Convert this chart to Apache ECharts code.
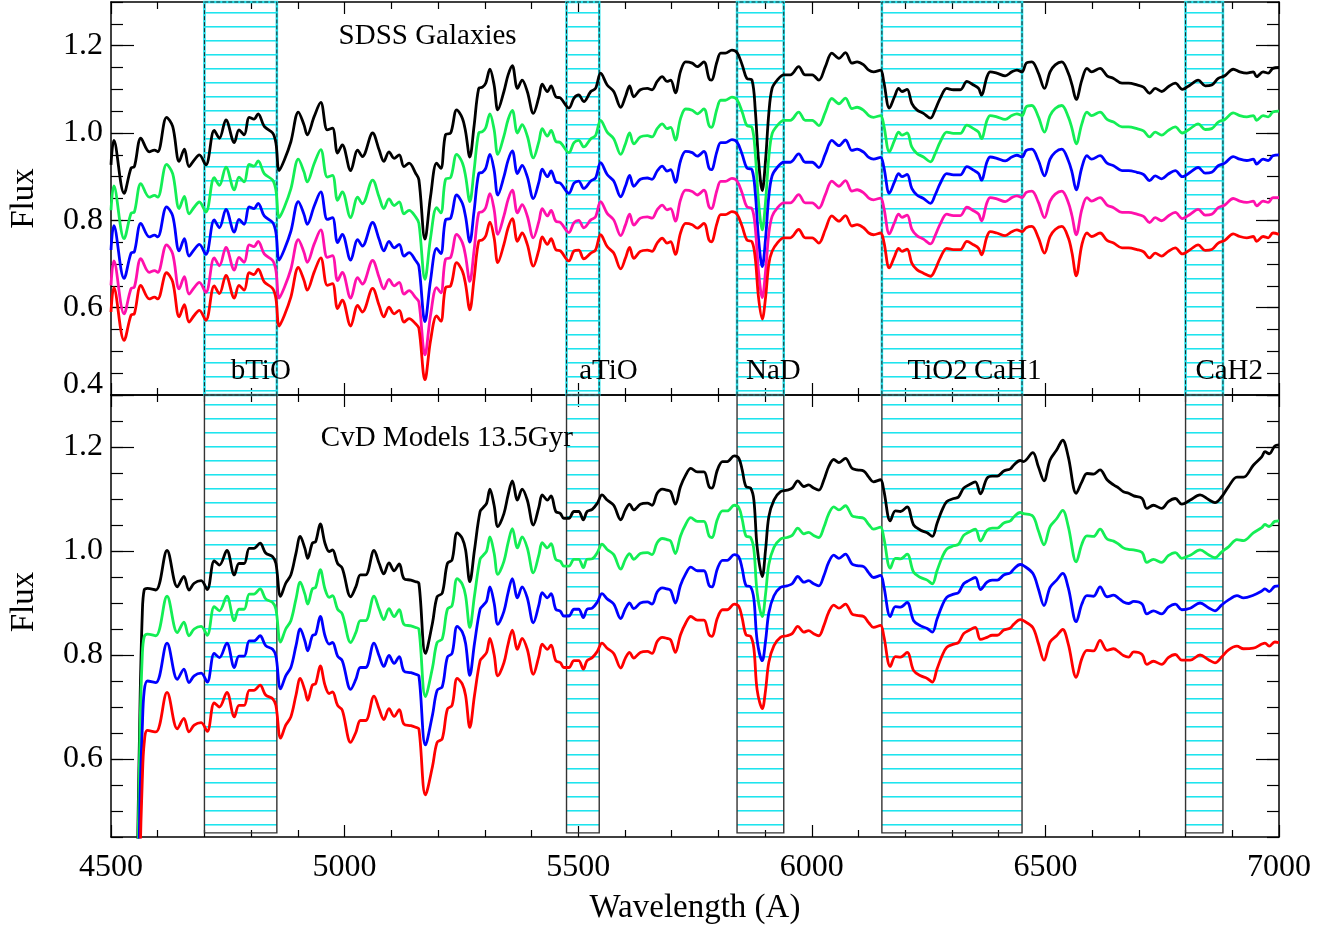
<!DOCTYPE html>
<html><head><meta charset="utf-8">
<script src="https://cdn.jsdelivr.net/npm/echarts@6/dist/echarts.min.js"></script>
<style>html,body{margin:0;padding:0;background:#fff}#c{width:1333px;height:926px}</style>
</head><body><div id="c"></div>
<script>
// ---------- data: SDSS galaxies (top panel) ----------
const waveTop = [
4500,4506,4528,4543,4550,4564,4582,4593,4600,4619,
4632,4646,4657,4667,4678,4689,4703,4721,4732,4746,
4764,4774,4785,4796,4806,4815,4828,4846,4853,4860,
4871,4885,4901,4913,4920,4935,4949,4963,4974,4985,
4995,5013,5028,5038,5060,5074,5084,5095,5106,5117,
5127,5138,5152,5159,5172,5184,5197,5206,5216,5227,
5240,5252,5259,5268,5277,5287,5295,5302,5311,5320,
5328,5341,5350,5359,5370,5380,5391,5404,5416,5423,
5434,5442,5452,5462,5480,5491,5501,5512,5527,5537,
5548,5562,5576,5591,5601,5610,5619,5633,5648,5658,
5669,5680,5690,5698,5708,5719,5730,5744,5755,5769,
5780,5785,5797,5805,5815,5829,5840,5851,5861,5872,
5879,5886,5894,5901,5908,5915,5926,5940,5954,5972,
5986,6001,6015,6029,6043,6058,6072,6086,6097,6111,
6122,6132,6147,6154,6166,6177,6186,6193,6204,6214,
6225,6239,6254,6264,6275,6289,6303,6318,6332,6346,
6357,6363,6375,6382,6396,6414,6428,6439,6450,6459,
6471,6485,6498,6510,6521,6535,6549,6557,6566,6578,
6589,6599,6617,6632,6646,6664,6678,6696,6710,6723,
6735,6749,6763,6778,6793,6810,6827,6842,6856,6870,
6884,6902,6916,6931,6945,6952,6966,6977,6987,7000];
const sdssBlack = [
0.927,0.983,0.862,0.920,0.923,0.988,0.957,0.961,0.957,1.036,
1.015,0.935,0.963,0.923,0.938,0.950,0.927,1.006,0.988,1.030,
0.978,1.007,0.996,1.036,1.032,1.044,1.015,1.000,0.977,0.914,
0.938,0.980,1.048,1.019,0.996,1.038,1.070,1.007,1.011,0.954,
0.973,0.914,0.961,0.946,1.000,0.961,0.935,0.957,0.942,0.950,
0.923,0.931,0.908,0.893,0.757,0.855,0.931,0.919,0.996,1.000,
1.053,1.034,1.003,0.945,1.015,1.102,1.105,1.114,1.146,1.110,
1.053,1.095,1.133,1.154,1.102,1.121,1.095,1.045,1.083,1.112,
1.095,1.108,1.083,1.080,1.057,1.080,1.087,1.072,1.095,1.102,
1.137,1.110,1.095,1.059,1.083,1.108,1.083,1.099,1.102,1.099,
1.118,1.129,1.118,1.121,1.092,1.141,1.163,1.160,1.152,1.163,
1.125,1.121,1.163,1.183,1.183,1.190,1.184,1.156,1.125,1.121,
1.053,0.938,0.868,0.938,1.045,1.102,1.121,1.133,1.133,1.152,
1.133,1.133,1.121,1.152,1.183,1.171,1.184,1.160,1.163,1.156,
1.144,1.140,1.144,1.118,1.057,1.083,1.102,1.095,1.100,1.068,
1.053,1.045,1.034,1.053,1.080,1.102,1.099,1.099,1.118,1.110,
1.102,1.087,1.129,1.140,1.137,1.131,1.140,1.144,1.140,1.160,
1.163,1.137,1.102,1.140,1.156,1.163,1.137,1.110,1.077,1.121,
1.148,1.140,1.148,1.131,1.125,1.114,1.114,1.110,1.105,1.091,
1.102,1.095,1.106,1.114,1.100,1.110,1.121,1.108,1.110,1.125,
1.131,1.146,1.140,1.137,1.140,1.129,1.140,1.137,1.148,1.150];
const sdssGreen = [
0.823,0.879,0.758,0.816,0.819,0.884,0.853,0.857,0.853,0.928,
0.907,0.827,0.855,0.815,0.830,0.842,0.819,0.898,0.880,0.922,
0.870,0.899,0.888,0.928,0.924,0.936,0.907,0.892,0.869,0.806,
0.830,0.872,0.940,0.911,0.888,0.930,0.962,0.899,0.903,0.846,
0.865,0.806,0.853,0.838,0.892,0.853,0.827,0.849,0.834,0.842,
0.815,0.823,0.808,0.793,0.665,0.760,0.829,0.817,0.894,0.898,
0.951,0.932,0.901,0.843,0.913,1.000,1.003,1.012,1.044,1.008,
0.951,0.993,1.031,1.052,1.000,1.019,0.993,0.943,0.981,1.010,
0.993,1.006,0.981,0.978,0.955,0.978,0.983,0.968,0.987,0.994,
1.029,1.002,0.987,0.951,0.975,1.000,0.975,0.991,0.994,0.991,
1.010,1.021,1.010,1.013,0.984,1.033,1.055,1.052,1.044,1.055,
1.017,1.013,1.055,1.075,1.075,1.082,1.076,1.048,1.017,1.013,
0.953,0.843,0.778,0.843,0.945,0.998,1.017,1.029,1.029,1.048,
1.029,1.029,1.017,1.048,1.079,1.067,1.080,1.056,1.059,1.052,
1.040,1.036,1.040,1.018,0.957,0.983,1.002,0.995,1.000,0.968,
0.953,0.945,0.934,0.953,0.980,1.002,0.999,0.999,1.018,1.010,
1.002,0.987,1.029,1.040,1.037,1.031,1.040,1.044,1.040,1.060,
1.063,1.037,1.002,1.040,1.056,1.063,1.037,1.010,0.975,1.021,
1.048,1.040,1.048,1.031,1.025,1.014,1.014,1.010,1.005,0.991,
1.002,0.995,1.006,1.014,1.000,1.010,1.021,1.008,1.010,1.025,
1.031,1.046,1.040,1.037,1.040,1.029,1.040,1.037,1.048,1.050];
const sdssBlue = [
0.732,0.788,0.667,0.725,0.728,0.793,0.762,0.766,0.762,0.831,
0.810,0.730,0.758,0.718,0.733,0.745,0.722,0.801,0.783,0.825,
0.773,0.802,0.791,0.831,0.827,0.839,0.810,0.795,0.772,0.709,
0.733,0.775,0.843,0.814,0.791,0.833,0.865,0.802,0.806,0.749,
0.768,0.709,0.756,0.741,0.795,0.756,0.730,0.752,0.737,0.745,
0.718,0.726,0.708,0.695,0.568,0.663,0.736,0.724,0.801,0.805,
0.858,0.839,0.808,0.750,0.820,0.907,0.910,0.919,0.951,0.915,
0.858,0.900,0.938,0.959,0.907,0.926,0.900,0.850,0.888,0.917,
0.900,0.913,0.888,0.885,0.862,0.885,0.890,0.873,0.890,0.897,
0.932,0.905,0.890,0.854,0.878,0.903,0.878,0.894,0.897,0.894,
0.913,0.924,0.913,0.916,0.887,0.936,0.958,0.955,0.947,0.958,
0.920,0.916,0.958,0.978,0.978,0.985,0.979,0.951,0.920,0.916,
0.863,0.758,0.694,0.758,0.855,0.902,0.921,0.933,0.933,0.952,
0.933,0.933,0.921,0.952,0.983,0.971,0.984,0.960,0.963,0.956,
0.944,0.940,0.944,0.923,0.862,0.888,0.907,0.900,0.905,0.873,
0.858,0.850,0.839,0.858,0.885,0.907,0.904,0.904,0.923,0.915,
0.907,0.892,0.934,0.945,0.942,0.936,0.945,0.949,0.945,0.960,
0.963,0.937,0.902,0.940,0.956,0.963,0.937,0.910,0.870,0.921,
0.948,0.940,0.948,0.931,0.925,0.914,0.914,0.910,0.905,0.891,
0.902,0.895,0.906,0.914,0.900,0.910,0.921,0.908,0.910,0.925,
0.931,0.946,0.940,0.937,0.940,0.929,0.940,0.937,0.948,0.950];
const sdssPink = [
0.651,0.707,0.586,0.644,0.647,0.712,0.681,0.685,0.681,0.744,
0.723,0.643,0.671,0.631,0.646,0.658,0.635,0.714,0.696,0.738,
0.686,0.715,0.704,0.744,0.740,0.752,0.723,0.708,0.685,0.622,
0.646,0.688,0.756,0.727,0.704,0.746,0.778,0.715,0.719,0.662,
0.681,0.622,0.669,0.654,0.708,0.669,0.643,0.665,0.650,0.658,
0.631,0.639,0.623,0.613,0.492,0.583,0.646,0.634,0.711,0.715,
0.768,0.749,0.718,0.660,0.730,0.817,0.820,0.829,0.861,0.825,
0.768,0.810,0.848,0.869,0.817,0.836,0.810,0.760,0.798,0.827,
0.810,0.823,0.798,0.795,0.772,0.795,0.800,0.783,0.801,0.808,
0.843,0.816,0.801,0.765,0.789,0.814,0.789,0.805,0.808,0.805,
0.824,0.835,0.824,0.827,0.798,0.847,0.869,0.866,0.858,0.869,
0.831,0.827,0.869,0.889,0.889,0.896,0.890,0.862,0.831,0.827,
0.783,0.683,0.623,0.683,0.770,0.809,0.828,0.840,0.840,0.859,
0.840,0.840,0.828,0.859,0.890,0.878,0.891,0.867,0.870,0.863,
0.851,0.847,0.851,0.830,0.769,0.795,0.814,0.807,0.812,0.780,
0.765,0.757,0.746,0.765,0.792,0.814,0.811,0.811,0.830,0.822,
0.814,0.799,0.841,0.852,0.849,0.843,0.852,0.856,0.852,0.864,
0.867,0.841,0.806,0.844,0.860,0.867,0.841,0.810,0.767,0.825,
0.852,0.844,0.852,0.835,0.829,0.818,0.818,0.814,0.809,0.795,
0.806,0.799,0.810,0.818,0.804,0.814,0.825,0.812,0.814,0.829,
0.835,0.850,0.844,0.841,0.844,0.833,0.844,0.841,0.852,0.852];
const sdssRed = [
0.590,0.646,0.525,0.583,0.586,0.651,0.620,0.624,0.620,0.680,
0.659,0.579,0.607,0.567,0.582,0.594,0.571,0.650,0.632,0.674,
0.622,0.651,0.640,0.680,0.676,0.688,0.659,0.644,0.621,0.558,
0.582,0.624,0.692,0.663,0.640,0.682,0.714,0.651,0.655,0.598,
0.617,0.558,0.605,0.590,0.644,0.605,0.579,0.601,0.586,0.594,
0.567,0.575,0.563,0.553,0.435,0.525,0.581,0.569,0.646,0.650,
0.703,0.684,0.653,0.595,0.665,0.752,0.755,0.764,0.796,0.760,
0.703,0.745,0.783,0.804,0.752,0.771,0.745,0.695,0.733,0.762,
0.745,0.758,0.733,0.730,0.707,0.730,0.732,0.712,0.725,0.732,
0.767,0.740,0.725,0.689,0.713,0.738,0.713,0.729,0.732,0.729,
0.748,0.759,0.748,0.751,0.722,0.771,0.793,0.790,0.782,0.793,
0.755,0.751,0.793,0.813,0.813,0.820,0.814,0.786,0.755,0.751,
0.713,0.623,0.574,0.623,0.700,0.729,0.748,0.760,0.760,0.779,
0.760,0.760,0.748,0.779,0.810,0.798,0.811,0.787,0.790,0.783,
0.771,0.767,0.771,0.752,0.691,0.717,0.736,0.729,0.734,0.702,
0.687,0.679,0.672,0.687,0.714,0.736,0.733,0.733,0.752,0.744,
0.736,0.721,0.763,0.774,0.771,0.765,0.774,0.778,0.774,0.783,
0.786,0.760,0.725,0.763,0.779,0.786,0.760,0.725,0.673,0.744,
0.771,0.763,0.771,0.754,0.748,0.737,0.737,0.733,0.728,0.714,
0.725,0.718,0.729,0.737,0.723,0.733,0.744,0.731,0.733,0.748,
0.754,0.769,0.763,0.760,0.763,0.752,0.763,0.760,0.771,0.768];

// ---------- data: CvD models (bottom panel) ----------
const waveBot = [
4553,4562,4567,4571,4578,4596,4620,4642,4656,4667,
4678,4693,4706,4721,4732,4748,4764,4774,4785,4796,
4806,4819,4831,4846,4853,4863,4874,4885,4896,4905,
4915,4921,4931,4938,4948,4958,4967,4974,4985,4995,
5013,5024,5034,5045,5063,5074,5084,5095,5106,5117,
5127,5142,5152,5159,5173,5188,5198,5209,5220,5230,
5241,5252,5259,5268,5278,5290,5297,5304,5311,5320,
5328,5341,5350,5359,5370,5380,5391,5404,5416,5423,
5434,5442,5452,5462,5469,5480,5491,5501,5511,5519,
5530,5541,5551,5562,5576,5591,5601,5610,5619,5633,
5648,5658,5669,5680,5690,5698,5708,5719,5730,5741,
5755,5769,5780,5786,5798,5809,5819,5834,5844,5851,
5859,5869,5876,5883,5894,5901,5908,5919,5933,5947,
5958,5970,5983,5993,6004,6015,6026,6036,6047,6058,
6072,6086,6097,6111,6122,6132,6147,6154,6168,6179,
6190,6204,6218,6233,6247,6258,6268,6279,6289,6304,
6314,6325,6336,6350,6361,6375,6386,6397,6411,6425,
6432,6446,6453,6473,6485,6497,6510,6524,6537,6549,
6566,6578,6589,6603,6617,6632,6646,6657,6667,6678,
6689,6707,6717,6731,6749,6763,6778,6792,6810,6831,
6849,6863,6877,6892,6910,6924,6945,6963,6970,6979,
6991,7000];
const cvdBlack = [
0.20,0.70,0.88,0.925,0.928,0.925,1.001,0.931,0.951,0.925,
0.938,0.943,0.926,0.981,0.973,1.001,0.954,0.976,0.976,1.005,
1.005,1.015,0.996,0.989,0.976,0.913,0.938,0.954,0.996,1.028,
1.005,0.986,1.015,1.018,1.052,1.015,0.999,1.002,0.976,0.967,
0.912,0.931,0.954,0.954,1.001,0.976,0.956,0.977,0.962,0.975,
0.947,0.944,0.941,0.938,0.803,0.861,0.912,0.919,0.976,0.983,
1.035,1.024,1.002,0.941,1.002,1.076,1.084,1.092,1.119,1.088,
1.047,1.072,1.108,1.135,1.098,1.119,1.098,1.050,1.085,1.108,
1.098,1.106,1.076,1.072,1.063,1.063,1.076,1.076,1.060,1.076,
1.080,1.092,1.108,1.098,1.088,1.060,1.079,1.090,1.079,1.090,
1.092,1.088,1.111,1.119,1.117,1.114,1.090,1.124,1.146,1.159,
1.152,1.152,1.124,1.121,1.156,1.172,1.172,1.183,1.178,1.156,
1.124,1.121,1.098,1.008,0.951,1.002,1.066,1.098,1.114,1.117,
1.121,1.135,1.124,1.127,1.121,1.117,1.137,1.162,1.176,1.170,
1.178,1.159,1.156,1.154,1.142,1.133,1.137,1.117,1.058,1.077,
1.076,1.085,1.050,1.040,1.035,1.028,1.053,1.079,1.095,1.101,
1.104,1.121,1.127,1.133,1.110,1.140,1.144,1.144,1.154,1.158,
1.165,1.174,1.172,1.189,1.162,1.135,1.175,1.194,1.213,1.181,
1.111,1.133,1.149,1.148,1.156,1.137,1.127,1.121,1.114,1.111,
1.106,1.101,1.082,1.088,1.082,1.095,1.101,1.090,1.098,1.108,
1.099,1.093,1.104,1.124,1.142,1.142,1.165,1.181,1.191,1.187,
1.202,1.204];
const cvdGreen = [
0.15,0.65,0.80,0.835,0.840,0.837,0.913,0.843,0.863,0.837,
0.850,0.855,0.838,0.893,0.885,0.913,0.866,0.888,0.888,0.917,
0.917,0.927,0.908,0.901,0.888,0.825,0.850,0.866,0.908,0.940,
0.917,0.898,0.927,0.930,0.964,0.927,0.911,0.914,0.888,0.879,
0.824,0.843,0.866,0.866,0.913,0.888,0.868,0.889,0.874,0.887,
0.859,0.856,0.853,0.850,0.720,0.775,0.824,0.831,0.888,0.895,
0.947,0.936,0.914,0.853,0.914,0.984,0.992,1.000,1.027,0.996,
0.955,0.980,1.016,1.043,1.006,1.027,1.006,0.958,0.993,1.016,
1.006,1.014,0.984,0.980,0.971,0.971,0.984,0.984,0.968,0.984,
0.985,0.997,1.013,1.003,0.993,0.965,0.984,0.995,0.984,0.995,
0.997,0.993,1.016,1.024,1.022,1.019,0.995,1.029,1.051,1.064,
1.057,1.057,1.029,1.026,1.061,1.077,1.077,1.088,1.083,1.061,
1.029,1.026,1.003,0.920,0.874,0.917,0.974,1.007,1.023,1.026,
1.030,1.044,1.033,1.036,1.030,1.026,1.046,1.071,1.085,1.079,
1.087,1.068,1.065,1.063,1.051,1.042,1.046,1.026,0.967,0.986,
0.985,0.994,0.959,0.949,0.944,0.937,0.962,0.988,1.004,1.010,
1.013,1.030,1.036,1.042,1.019,1.040,1.044,1.044,1.054,1.058,
1.065,1.074,1.072,1.067,1.039,1.012,1.047,1.062,1.078,1.047,
0.979,1.013,1.029,1.028,1.042,1.023,1.019,1.013,1.006,1.003,
1.002,0.997,0.978,0.984,0.978,0.991,0.997,0.986,0.992,1.002,
0.993,0.987,0.998,1.008,1.022,1.020,1.035,1.045,1.051,1.047,
1.057,1.058];
const cvdBlue = [
0.05,0.52,0.66,0.73,0.750,0.747,0.823,0.753,0.773,0.747,
0.760,0.765,0.748,0.803,0.795,0.823,0.776,0.798,0.798,0.827,
0.827,0.837,0.818,0.811,0.798,0.735,0.760,0.776,0.818,0.850,
0.827,0.808,0.837,0.840,0.874,0.837,0.821,0.824,0.798,0.789,
0.734,0.753,0.776,0.776,0.823,0.798,0.778,0.799,0.784,0.797,
0.769,0.766,0.763,0.760,0.627,0.684,0.732,0.739,0.796,0.803,
0.855,0.844,0.822,0.761,0.822,0.888,0.896,0.904,0.931,0.900,
0.859,0.884,0.920,0.947,0.910,0.931,0.910,0.862,0.897,0.920,
0.910,0.918,0.888,0.884,0.875,0.875,0.888,0.888,0.872,0.888,
0.890,0.902,0.918,0.908,0.898,0.870,0.889,0.900,0.889,0.900,
0.902,0.898,0.921,0.929,0.927,0.924,0.900,0.934,0.956,0.969,
0.962,0.962,0.934,0.931,0.966,0.982,0.982,0.993,0.988,0.966,
0.934,0.931,0.908,0.828,0.789,0.827,0.881,0.914,0.930,0.933,
0.937,0.951,0.940,0.943,0.937,0.933,0.953,0.978,0.992,0.986,
0.994,0.975,0.972,0.970,0.958,0.949,0.953,0.933,0.874,0.893,
0.892,0.901,0.866,0.856,0.851,0.844,0.869,0.895,0.911,0.917,
0.920,0.937,0.943,0.949,0.926,0.940,0.944,0.944,0.954,0.958,
0.965,0.974,0.972,0.957,0.927,0.895,0.930,0.944,0.957,0.929,
0.864,0.898,0.914,0.913,0.931,0.912,0.915,0.909,0.902,0.899,
0.903,0.898,0.879,0.885,0.879,0.892,0.898,0.887,0.890,0.900,
0.891,0.885,0.896,0.906,0.914,0.910,0.915,0.923,0.927,0.922,
0.932,0.933];
const cvdRed = [
-0.10,0.40,0.56,0.63,0.655,0.652,0.728,0.658,0.678,0.652,
0.665,0.670,0.653,0.708,0.700,0.728,0.681,0.703,0.703,0.732,
0.732,0.742,0.723,0.716,0.703,0.640,0.665,0.681,0.723,0.755,
0.732,0.713,0.742,0.745,0.779,0.742,0.726,0.729,0.703,0.694,
0.632,0.651,0.674,0.674,0.721,0.696,0.676,0.697,0.682,0.695,
0.667,0.664,0.661,0.658,0.531,0.585,0.632,0.639,0.696,0.703,
0.755,0.744,0.722,0.661,0.722,0.789,0.797,0.805,0.832,0.801,
0.760,0.785,0.821,0.848,0.811,0.832,0.811,0.763,0.798,0.821,
0.811,0.819,0.789,0.785,0.776,0.776,0.789,0.789,0.773,0.789,
0.795,0.807,0.823,0.813,0.803,0.775,0.794,0.805,0.794,0.805,
0.807,0.803,0.826,0.834,0.832,0.829,0.805,0.839,0.861,0.874,
0.867,0.867,0.839,0.836,0.871,0.887,0.887,0.898,0.893,0.871,
0.839,0.836,0.813,0.733,0.697,0.732,0.786,0.818,0.834,0.837,
0.841,0.855,0.844,0.847,0.841,0.837,0.857,0.882,0.896,0.890,
0.898,0.879,0.876,0.874,0.862,0.853,0.857,0.837,0.778,0.797,
0.796,0.805,0.770,0.760,0.755,0.748,0.773,0.799,0.815,0.821,
0.824,0.841,0.847,0.853,0.830,0.834,0.838,0.838,0.848,0.852,
0.859,0.868,0.866,0.853,0.822,0.790,0.825,0.837,0.849,0.821,
0.757,0.793,0.809,0.808,0.828,0.809,0.812,0.806,0.799,0.796,
0.806,0.801,0.782,0.788,0.782,0.795,0.801,0.790,0.790,0.800,
0.791,0.785,0.796,0.810,0.817,0.812,0.813,0.821,0.823,0.817,
0.825,0.824];

// ---------- index bands, ticks and texts ----------
const bandEdges = [[4700,4855],[5475,5545],[5840,5940],[6150,6450],[6800,6880]];
const bandNames = ['bTiO','aTiO','NaD','TiO2','CaH1','CaH2'];
const bandNameWave = [4755,5501,5858,6204,6346,6820];
const xTickLabels = [4500,5000,5500,6000,6500,7000];
const yTopTicks = [0.4,0.6,0.8,1.0,1.2];
const yBotTicks = [0.6,0.8,1.0,1.2];
const panelTitles = ['SDSS Galaxies','CvD Models 13.5Gyr'];

const SERIF = "'Liberation Serif','Times New Roman',serif";
const COLORS5 = ['#000000','#14ee55','#0000ff','#ff10ac','#ff0000'];
const COLORS4 = ['#000000','#14ee55','#0000ff','#ff0000'];

// hatch pattern for the index bands
const pc = document.createElement('canvas');
pc.width = 8; pc.height = 14;
const pg = pc.getContext('2d');
pg.fillStyle = '#1ee4ee'; pg.fillRect(0, 12, 8, 1);
pg.fillStyle = '#7ff0f5'; pg.fillRect(0, 13, 8, 1);
const hatch = {image: pc, repeat: 'repeat'};

const chart = echarts.init(document.getElementById('c'), null, {renderer: 'canvas'});
const axLine = {color: '#000', width: 1.5};
const tickLine = {color: '#000', width: 1.2};

function xAx(grid, pos, showLabel, name) {
  return {
    type: 'value', gridIndex: grid, position: pos, min: 4500, max: 7000, interval: 500,
    name: name || '', nameLocation: 'middle', nameGap: 55,
    nameTextStyle: {fontFamily: SERIF, fontSize: 33, color: '#000'},
    axisLine: {show: true, onZero: false, lineStyle: axLine},
    axisTick: {show: true, inside: true, length: 12, lineStyle: tickLine},
    minorTick: {show: true, splitNumber: 5, length: 7, lineStyle: tickLine},
    axisLabel: {show: showLabel, margin: 15, fontFamily: SERIF, fontSize: 32, color: '#000',
      customValues: xTickLabels, formatter: v => String(v)},
    splitLine: {show: false}, minorSplitLine: {show: false}
  };
}
function yMajor(grid, pos, min, ticks, showLabel, name, namePad) {
  return {
    type: 'value', gridIndex: grid, position: pos, min: min, max: 1.3,
    name: name || '', nameLocation: 'middle', nameGap: 70,
    nameTextStyle: {fontFamily: SERIF, fontSize: 33, color: '#000', padding: namePad || 0},
    axisLine: {show: true, onZero: false, lineStyle: axLine},
    axisTick: {show: true, inside: true, length: 23, customValues: ticks, lineStyle: tickLine},
    axisLabel: {show: showLabel, margin: 8, customValues: ticks, fontFamily: SERIF, fontSize: 32, color: '#000',
      formatter: v => (Math.abs(v - 0.4) < 1e-6 ? '{up|' + v.toFixed(1) + '}' : v.toFixed(1)),
      rich: {up: {fontFamily: SERIF, fontSize: 32, color: '#000', padding: [0, 0, 20, 0]}}},
    splitLine: {show: false}
  };
}
function yMinor(grid, pos, min) {
  return {
    type: 'value', gridIndex: grid, position: pos, min: min, max: 1.3, interval: 0.05,
    axisLine: {show: false},
    axisTick: {show: true, inside: true, length: 12, lineStyle: tickLine},
    axisLabel: {show: false}, splitLine: {show: false}
  };
}

function spec(wave, vals, color, xi, yi, z) {
  return {
    type: 'line', xAxisIndex: xi, yAxisIndex: yi, data: wave.map((w, i) => [w, vals[i]]),
    showSymbol: false, smooth: 0.35, clip: true, z: z, silent: true,
    lineStyle: {color: color, width: 2.8}, itemStyle: {color: color}
  };
}
function bandSeries(xi, yi, yLow, fill, border, width, type) {
  return {
    type: 'line', xAxisIndex: xi, yAxisIndex: yi, data: [], silent: true,
    markArea: {silent: true,
      itemStyle: {color: fill, borderColor: border, borderWidth: width, borderType: type},
      data: bandEdges.map(b => [{xAxis: b[0], yAxis: yLow}, {xAxis: b[1], yAxis: 1.3}])}
  };
}
function textSeries(xi, yi, items, size) {
  return {
    type: 'scatter', xAxisIndex: xi, yAxisIndex: yi, symbolSize: 1, silent: true, z: 10,
    itemStyle: {color: 'rgba(255,255,255,0)', opacity: 1},
    data: items,
    label: {show: true, position: 'right', distance: 0, formatter: p => p.data[2],
      fontFamily: SERIF, fontSize: size, color: '#000', opacity: 1,
      textBorderWidth: 0, textShadowBlur: 0}
  };
}

const topTexts = [[4986, 1.222, panelTitles[0]]].concat(
  bandNames.map((n, i) => [bandNameWave[i], 0.453, n]));
const botTexts = [[4948, 1.217, panelTitles[1]]];

const series = [
  bandSeries(0, 0, 0.4, hatch, '#22e0ea', 2.5, 'solid'),
  bandSeries(0, 0, 0.4, 'rgba(0,0,0,0)', '#222', 1, 'dashed'),
  bandSeries(2, 4, 0.458, hatch, '#333', 1.4, 'solid'),
  spec(waveTop, sdssBlack, COLORS5[0], 0, 0, 3),
  spec(waveTop, sdssGreen, COLORS5[1], 0, 0, 4),
  spec(waveTop, sdssBlue, COLORS5[2], 0, 0, 5),
  spec(waveTop, sdssPink, COLORS5[3], 0, 0, 6),
  spec(waveTop, sdssRed, COLORS5[4], 0, 0, 7),
  spec(waveBot, cvdBlack, COLORS4[0], 2, 4, 3),
  spec(waveBot, cvdGreen, COLORS4[1], 2, 4, 4),
  spec(waveBot, cvdBlue, COLORS4[2], 2, 4, 5),
  spec(waveBot, cvdRed, COLORS4[3], 2, 4, 6),
  textSeries(0, 0, topTexts, 29),
  textSeries(2, 4, botTexts, 29)
];

chart.setOption({
  animation: false,
  backgroundColor: '#fff',
  grid: [
    {left: 110, right: 54, top: 2, height: 393},
    {left: 110, right: 54, top: 395, height: 442}
  ],
  xAxis: [
    xAx(0, 'bottom', false),
    xAx(0, 'top', false),
    xAx(1, 'bottom', true, 'Wavelength (A)'),
    xAx(1, 'top', false)
  ],
  yAxis: [
    yMajor(0, 'left', 0.4, yTopTicks, true, 'Flux'),
    yMinor(0, 'left', 0.4),
    yMajor(0, 'right', 0.4, yTopTicks, false),
    yMinor(0, 'right', 0.4),
    yMajor(1, 'left', 0.45, yBotTicks, true, 'Flux', [0, 0, 0, 28]),
    yMinor(1, 'left', 0.45),
    yMajor(1, 'right', 0.45, yBotTicks, false),
    yMinor(1, 'right', 0.45)
  ],
  series: series
});
</script>
</body></html>
